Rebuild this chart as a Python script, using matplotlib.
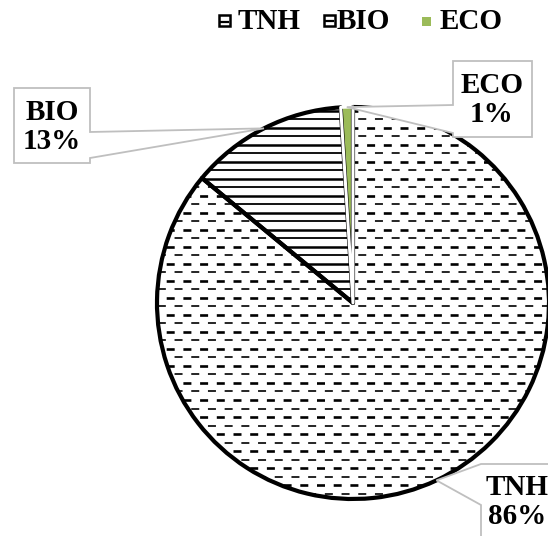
import matplotlib
matplotlib.use("Agg")
import matplotlib.pyplot as plt
import numpy as np
from matplotlib.patches import Wedge, Polygon, Rectangle
from matplotlib.lines import Line2D

categories = ["TNH", "BIO", "ECO"]
shares = [86, 13, 1]
face_colors = ["white", "white", "#9BBB59"]

plt.rcParams["lines.scale_dashes"] = False
plt.rcParams["font.family"] = ["Liberation Serif", "DejaVu Serif"]

W, H = 548, 536
CX, CY, R = 353, 303, 196   # pie centre / radius in pixels
PT = 0.72                   # one pixel in points at dpi 100
FS = 21

fig = plt.figure(figsize=(W / 100, H / 100), dpi=100)
ax = fig.add_axes([(CX - R) / W, (H - CY - R) / H, 2 * R / W, 2 * R / H])

wedges, _ = ax.pie(shares, startangle=90, counterclock=False, radius=1,
                   colors=face_colors, wedgeprops=dict(linewidth=0))
ax.set_xlim(-1, 1)
ax.set_ylim(-1, 1)
ax.axis("off")


def to_data(x, y):
    return ((x - CX) / R, (CY - y) / R)


def to_fig(x, y):
    return (x / W, 1 - y / H)


# hatch patterns: dashed rows for TNH, solid rows for BIO
step = 8.5 / R
period = 16.7
rows = np.arange(-1 - 3 / R, 1, step)
for i, y in enumerate(rows):
    thick = i % 2 == 0
    off = 7.5 if thick else (7.5 + period / 2) % period
    ln, = ax.plot([-1, 1], [y, y], color="black", lw=1.9 if thick else 1.2,
                  linestyle=(off * PT, (8 * PT, (period - 8) * PT)),
                  dash_capstyle="butt", zorder=2)
    ln.set_clip_path(wedges[0])
    ln2, = ax.plot([-1, 1], [y, y], color="black", lw=1.8 if thick else 1.3,
                   solid_capstyle="butt", zorder=2)
    ln2.set_clip_path(wedges[1])

# wedge outlines
for w, ec, lw in zip(wedges, ["black", "black", "white"], [3.0, 3.0, 2.2]):
    ax.add_patch(Wedge(w.center, w.r, w.theta1, w.theta2, fill=False,
                       edgecolor=ec, lw=lw, joinstyle="round", zorder=3,
                       clip_on=False))

# callout labels
boxes = {
    "TNH": dict(rect=(481, 464, 560, 540), side="left", base=(464, 505), text=(517, 502)),
    "BIO": dict(rect=(14, 88, 90, 163), side="right", base=(132, 158), text=(52, 127)),
    "ECO": dict(rect=(453, 61, 532, 137), side="left", base=(105, 133), text=(492, 100)),
}
for w, cat, val in zip(wedges, categories, shares):
    b = boxes[cat]
    mid = np.deg2rad((w.theta1 + w.theta2) / 2)
    anchor = (np.cos(mid), np.sin(mid))
    x0, y0, x1, y1 = b["rect"]
    t0, t1 = b["base"]
    if b["side"] == "right":
        pts = [(x0, y0), (x1, y0), (x1, t0), None, (x1, t1), (x1, y1), (x0, y1)]
    else:
        pts = [(x0, y0), (x1, y0), (x1, y1), (x0, y1), (x0, t1), None, (x0, t0)]
    verts = [anchor if p is None else to_data(*p) for p in pts]
    ax.add_patch(Polygon(verts, closed=True, facecolor="white", edgecolor="#BFBFBF",
                         lw=1.3, zorder=4, clip_on=False))
    tx, ty = to_data(*b["text"])
    ax.text(tx, ty, f"{cat}\n{val}%", ha="center", va="center", fontsize=FS,
            fontweight="bold", linespacing=1.1, zorder=5, clip_on=False)

# legend
legend_items = [(219, 238, 11), (324, 337, 11), (422, 440, 9)]
for (mx, tx, size), cat, fc in zip(legend_items, categories, face_colors):
    top = 26 - size
    if cat == "ECO":
        fig.add_artist(Rectangle(to_fig(mx, 26), size / W, size / H,
                                 transform=fig.transFigure, facecolor=fc, edgecolor="none"))
    else:
        fig.add_artist(Rectangle(to_fig(mx, 26), size / W, size / H,
                                 transform=fig.transFigure, facecolor="white",
                                 edgecolor="black", lw=1.8))
        ly = top + size * (0.65 if cat == "TNH" else 0.5)
        (fx0, fy), (fx1, _) = to_fig(mx + 2, ly), to_fig(mx + size - 2, ly)
        fig.add_artist(Line2D([fx0, fx1], [fy, fy], transform=fig.transFigure,
                              color="black", lw=1.6))
    fig.text(*to_fig(tx, 29), cat, ha="left", va="baseline", fontsize=FS,
             fontweight="bold")

fig.savefig("out.png", dpi=100)
